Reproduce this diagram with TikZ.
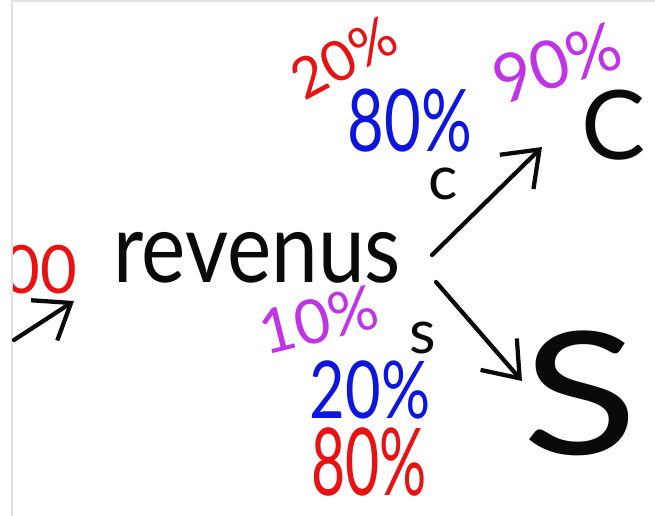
\documentclass[tikz,border=0pt]{standalone}
\usepackage{fontspec}
\setmainfont{Lato}
\usetikzlibrary{arrows.meta}
\definecolor{ink}{RGB}{10,10,10}
\definecolor{hred}{RGB}{232,18,18}
\definecolor{hblue}{RGB}{14,22,222}
\definecolor{hpurple}{RGB}{192,52,232}
\definecolor{frame}{RGB}{225,225,225}
\tikzset{
  hand/.style={inner sep=0pt, outer sep=0pt},
  fs/.style={font=\fontsize{#1}{#1}\selectfont},
  conn/.style={draw=ink, line width=3.2pt, line cap=round, line join=round,
    -{Straight Barb[length=24pt, width=36pt, line width=3.2pt]}},
}
\begin{document}
\begin{tikzpicture}[x=0.75pt, y=-0.75pt]
\useasboundingbox (0,0) rectangle (655,516);
\fill[white] (0,0) rectangle (655,516);
\draw[frame, line width=1pt] (12,516) -- (12,1) -- (655,1);
\begin{scope}
\clip (13,2) rectangle (655,516);
% left value, cut off at the edge
\node[hand, hred, fs=50, xscale=0.95] (v0) at (22,270) {100};
\end{scope}
\node[hand, ink, fs=73, xscale=0.86] (rev) at (257,258) {revenus};
% upper branch
\node[hand, hred, fs=42, rotate=28] (r20) at (344,58) {20\%};
\node[hand, hblue, fs=54, xscale=0.88, yscale=1.2] (b80) at (410,121) {80\%};
\node[hand, hpurple, fs=50, rotate=18] (p90) at (557,63) {90\%};
\node[hand, ink, fs=72] (C) at (614,125) {C};
\node[hand, ink, fs=46] (c) at (443,184) {c};
% lower branch
\node[hand, hpurple, fs=46, rotate=14] (p10) at (319,320) {10\%};
\node[hand, hblue, fs=46, yscale=1.3] (b20) at (370,390) {20\%};
\node[hand, hred, fs=52, xscale=0.85, yscale=1.35] (r80) at (369,462) {80\%};
\node[hand, ink, fs=46] (s) at (423,338) {s};
\node[hand, ink, fs=128, xscale=1.25] (S) at (580,393) {S};
% connectors
\coordinate (in0) at (14,340);
\coordinate (in1) at (74,301);
\coordinate (up0) at (432,255);
\coordinate (up1) at (542,147);
\coordinate (dn0) at (436,282);
\coordinate (dn1) at (522,381);
\draw[conn] (in0) -- (in1);
\draw[conn] (up0) -- (up1);
\draw[conn] (dn0) -- (dn1);
\end{tikzpicture}
\end{document}
